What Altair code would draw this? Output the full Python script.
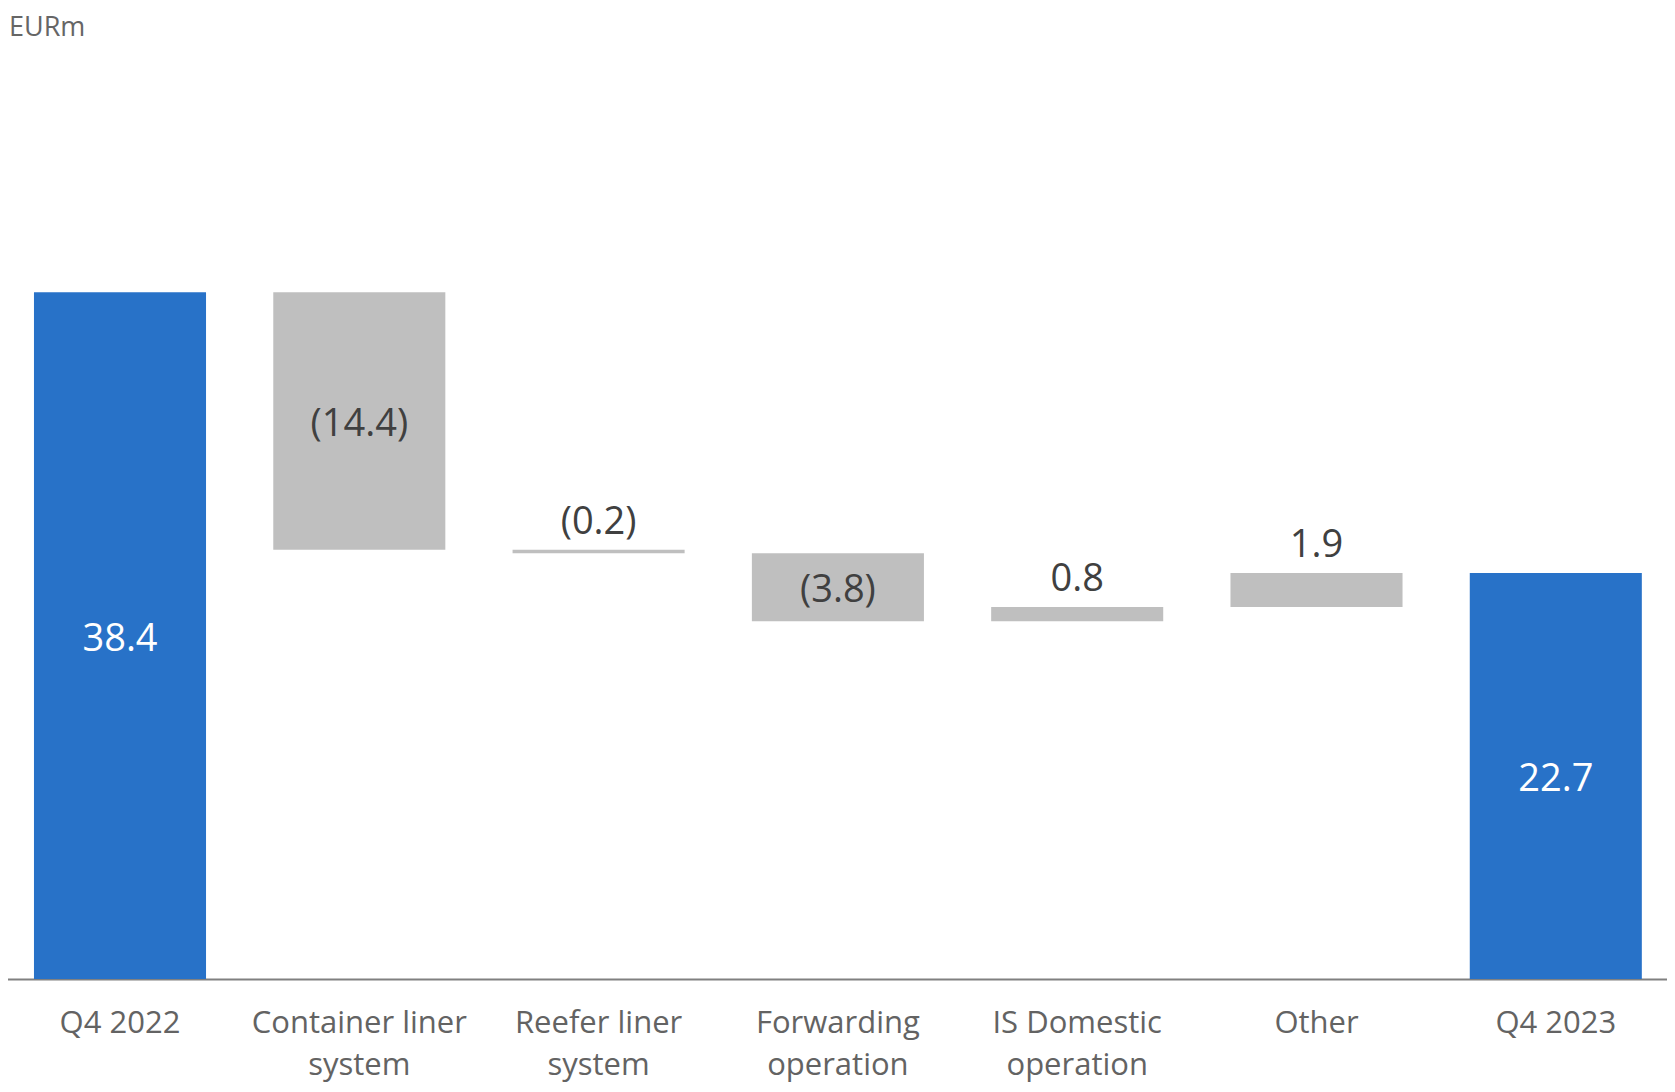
import altair as alt
import pandas as pd

# ---- data ----
categories = ["Q4 2022", "Container liner\nsystem", "Reefer liner\nsystem",
              "Forwarding\noperation", "IS Domestic\noperation", "Other", "Q4 2023"]
values = [38.4, -14.4, -0.2, -3.8, 0.8, 1.9, 22.7]
kinds = ["total", "delta", "delta", "delta", "delta", "delta", "total"]

rows = []
running = 0.0
for c, v, k in zip(categories, values, kinds):
    if k == "total":
        start, end = 0.0, v
        running = v
    else:
        start = running
        end = running + v
        running = end
    label = f"({abs(v):.1f})" if v < 0 else f"{v:.1f}"
    rows.append(dict(cat=c, start=start, end=end, top=max(start, end),
                     mid=(start + end) / 2, kind=k, label=label,
                     small=(k == "delta" and abs(v) < 3)))
df = pd.DataFrame(rows)

FONT = "Open Sans"
H = 959
YMAX = H / 17.885

x_enc = alt.X(
    "cat:N", sort=categories,
    scale=alt.Scale(range=[-7.65, 1667.45], paddingInner=0.281, paddingOuter=0.1405),
    axis=alt.Axis(title=None, labelAngle=0, ticks=False, tickSize=0,
                  domainColor="#808080", domainWidth=2,
                  labelFont=FONT, labelFontSize=31, labelColor="#636363",
                  labelPadding=29, labelLineHeight=42, labelBaseline="top",
                  labelLimit=600, labelExpr="split(datum.label, '\\n')"),
)
y_scale = alt.Scale(domain=[0, YMAX], nice=False, zero=True)

base = alt.Chart(df)

bars = base.mark_bar(cornerRadius=0).encode(
    x=x_enc,
    y=alt.Y("start:Q", scale=y_scale, axis=None),
    y2="end:Q",
    color=alt.Color("kind:N", scale=alt.Scale(domain=["total", "delta"],
                                              range=["#2872C8", "#BFBFBF"]), legend=None),
)

inside = base.transform_filter("!datum.small").mark_text(
    font=FONT, fontSize=38, baseline="middle", align="center", dy=4
).encode(
    x=alt.X("cat:N", sort=categories),
    y=alt.Y("mid:Q", scale=y_scale, axis=None),
    text="label:N",
    color=alt.condition(alt.datum.kind == "total", alt.value("white"), alt.value("#404040")),
)

above = base.transform_filter("datum.small").mark_text(
    font=FONT, fontSize=38, baseline="alphabetic", align="center", dy=-16, color="#404040"
).encode(
    x=alt.X("cat:N", sort=categories),
    y=alt.Y("top:Q", scale=y_scale, axis=None),
    text="label:N",
)

unit = alt.Chart(pd.DataFrame({"t": ["EURm"]})).mark_text(
    font=FONT, fontSize=27, align="left", baseline="alphabetic", color="#666666"
).encode(text="t:N", x=alt.value(1), y=alt.value(16))

chart = alt.layer(bars, inside, above, unit).properties(
    width=1659, height=H,
    autosize=alt.AutoSizeParams(type="none"),
    padding={"left": 0, "top": 12, "right": 0, "bottom": 104},
).configure_view(stroke=None)

chart.save("out.html", embed_options={"renderer": "svg", "actions": False})
